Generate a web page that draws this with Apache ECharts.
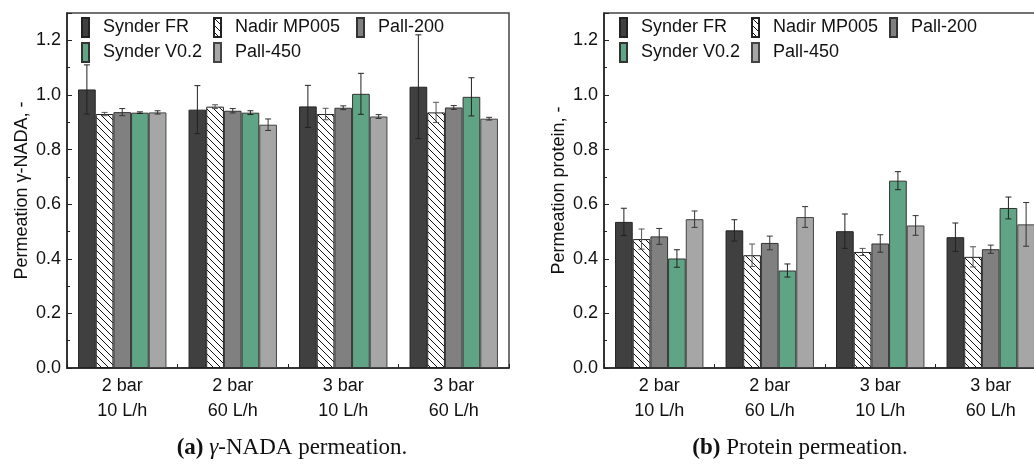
<!DOCTYPE html>
<html>
<head>
<meta charset="utf-8">
<script src="https://cdn.jsdelivr.net/npm/echarts@6/dist/echarts.min.js"></script>
<style>
  html, body { margin: 0; padding: 0; background: #fff; }
  #chart { width: 1034px; height: 468px; }
</style>
</head>
<body>
<div id="chart"></div>
<script>
// data
const categories = ['2 bar\n10 L/h', '2 bar\n60 L/h', '3 bar\n10 L/h', '3 bar\n60 L/h']
const names = ['Synder FR', 'Nadir MP005', 'Pall-200', 'Synder V0.2', 'Pall-450']
const yTicks = [0, 0.2, 0.4, 0.6, 0.8, 1.0, 1.2]

// (a) gamma-NADA permeation
const nadaFR = [1.02, 0.946, 0.958, 1.03]
const nadaFRErr = [0.09, 0.088, 0.077, 0.19]
const nadaNadir = [0.930, 0.957, 0.930, 0.936]
const nadaNadirErr = [0.006, 0.007, 0.021, 0.037]
const nadaP200 = [0.937, 0.942, 0.953, 0.954]
const nadaP200Err = [0.013, 0.008, 0.007, 0.007]
const nadaV02 = [0.935, 0.935, 1.004, 0.993]
const nadaV02Err = [0.003, 0.007, 0.075, 0.07]
const nadaP450 = [0.936, 0.891, 0.921, 0.913]
const nadaP450Err = [0.006, 0.021, 0.007, 0.005]

// (b) protein permeation
const protFR = [0.535, 0.504, 0.501, 0.479]
const protFRErr = [0.05, 0.039, 0.063, 0.052]
const protNadir = [0.472, 0.413, 0.425, 0.407]
const protNadirErr = [0.037, 0.041, 0.013, 0.037]
const protP200 = [0.482, 0.458, 0.456, 0.435]
const protP200Err = [0.029, 0.025, 0.032, 0.015]
const protV02 = [0.401, 0.357, 0.686, 0.586]
const protV02Err = [0.032, 0.024, 0.033, 0.04]
const protP450 = [0.545, 0.553, 0.522, 0.526]
const protP450Err = [0.03, 0.038, 0.036, 0.08]

const nada = [nadaFR, nadaNadir, nadaP200, nadaV02, nadaP450]
const nadaErr = [nadaFRErr, nadaNadirErr, nadaP200Err, nadaV02Err, nadaP450Err]
const prot = [protFR, protNadir, protP200, protV02, protP450]
const protErr = [protFRErr, protNadirErr, protP200Err, protV02Err, protP450Err]

// hatch for Nadir MP005
const hatch = document.createElement('canvas')
hatch.width = 7
hatch.height = 7
const hctx = hatch.getContext('2d')
hctx.fillStyle = '#fff'
hctx.fillRect(0, 0, 7, 7)
hctx.strokeStyle = '#111'
hctx.lineWidth = 1
for (let k = -7; k <= 7; k += 7) {
  hctx.beginPath()
  hctx.moveTo(k, 0)
  hctx.lineTo(k + 7, 7)
  hctx.stroke()
}

const fills = ['#404040', { image: hatch, repeat: 'repeat' }, '#808080', '#5fa585', '#a6a6a6']
const borders = ['#222', '#222', '#333', '#333', '#444']
const errColors = ['#222', '#555', '#333', '#222', '#333']
const font = 'Liberation Sans, Arial, sans-serif'
const serif = 'Liberation Serif, serif'
const barFrac = 0.16 // (1 - 20%) / 5

const chartDom = document.getElementById('chart')
const myChart = echarts.init(chartDom)

// right panel runs past the edge of the page in the original
const grids = [
  { left: 67, top: 13, width: 442, height: 355 },
  { left: 604, top: 13, width: 442, height: 355 }
]

const xAxes = grids.map((g, i) => ({
  type: 'category',
  gridIndex: i,
  data: categories,
  axisLine: { lineStyle: { color: '#222', width: 1.5 } },
  axisTick: { show: true, inside: true, length: 4, lineStyle: { color: '#222' } },
  axisLabel: { color: '#111', fontSize: 18, fontFamily: font, lineHeight: 25, margin: 6 }
}))

const yAxes = ['Permeation γ-NADA, -', 'Permeation protein, -'].map((nm, i) => ({
  type: 'value',
  gridIndex: i,
  min: 0,
  max: 1.3,
  interval: 0.2,
  name: nm,
  nameLocation: 'middle',
  nameRotate: 90,
  nameGap: 36,
  nameTextStyle: { color: '#111', fontSize: 18, fontFamily: font },
  splitLine: { show: false },
  axisLine: { show: true, lineStyle: { color: '#222', width: 1.5 } },
  axisTick: { show: true, inside: true, length: 5, lineStyle: { color: '#222' } },
  minorTick: { show: true, splitNumber: 2, length: 3, lineStyle: { color: '#222' } },
  axisLabel: {
    color: '#111', fontSize: 18, fontFamily: font, margin: 6, showMaxLabel: false,
    formatter: v => yTicks.includes(+v.toFixed(1)) ? v.toFixed(1) : ''
  }
}))

const series = []
;[nada, prot].forEach((vals, gi) => {
  const errs = gi === 0 ? nadaErr : protErr
  names.forEach((nm, si) => {
    series.push({
      name: nm,
      type: 'bar',
      xAxisIndex: gi,
      yAxisIndex: gi,
      data: vals[si],
      barGap: '0%',
      barCategoryGap: '20%',
      itemStyle: { color: fills[si], borderColor: borders[si], borderWidth: 1 },
      emphasis: { disabled: true }
    })
  })
  // error bars, placed on the matching bar of each group
  names.forEach((nm, si) => {
    series.push({
      type: 'custom',
      xAxisIndex: gi,
      yAxisIndex: gi,
      z: 5,
      silent: true,
      data: vals[si].map((v, ci) => [ci, v, errs[si][ci]]),
      encode: { x: 0, y: 1 },
      renderItem: (params, api) => {
        const ci = api.value(0)
        const v = api.value(1)
        const e = api.value(2)
        const bw = api.size([1, 0])[0] * barFrac
        const hi = api.coord([ci, v + e])
        const lo = api.coord([ci, v - e])
        const x = hi[0] + (si - 2) * bw
        const st = { stroke: errColors[si], lineWidth: 1 }
        return {
          type: 'group',
          children: [
            { type: 'line', shape: { x1: x, y1: hi[1], x2: x, y2: lo[1] }, style: st },
            { type: 'line', shape: { x1: x - 3, y1: hi[1], x2: x + 3, y2: hi[1] }, style: st },
            { type: 'line', shape: { x1: x - 3, y1: lo[1], x2: x + 3, y2: lo[1] }, style: st }
          ]
        }
      }
    })
  })
})

// legend laid out in columns, like the original
const legendCol = (left, top, data) => ({
  left: left,
  top: top,
  orient: 'vertical',
  padding: 0,
  itemGap: 4,
  itemWidth: 7,
  itemHeight: 19,
  icon: 'rect',
  selectedMode: false,
  data: data,
  textStyle: { color: '#111', fontSize: 18, fontFamily: font, padding: [0, 0, 0, 9] }
})

const legends = [
  legendCol(81, 17, [names[0], names[3]]),
  legendCol(213, 17, [names[1], names[4]]),
  legendCol(356, 17, [names[2]]),
  legendCol(619, 17, [names[0], names[3]]),
  legendCol(751, 17, [names[1], names[4]]),
  legendCol(889, 17, [names[2]])
]

const caption = (x, tag, rest) => ({
  type: 'text',
  x: x,
  y: 448,
  style: {
    text: '{b|' + tag + '} ' + rest,
    align: 'center',
    verticalAlign: 'middle',
    fill: '#111',
    fontSize: 23,
    fontFamily: serif,
    rich: {
      b: { fontWeight: 'bold', fontSize: 23, fontFamily: serif },
      g: { fontStyle: 'italic', fontSize: 23, fontFamily: serif }
    }
  }
})

const option = {
  backgroundColor: '#fff',
  animation: false,
  grid: grids.map(g => Object.assign({ show: true, borderColor: '#444', borderWidth: 1.5, outerBoundsMode: 'none', containLabel: false }, g)),
  legend: legends,
  xAxis: xAxes,
  yAxis: yAxes,
  series: series,
  graphic: [
    caption(292, '(a)', '{g|γ}-NADA permeation.'),
    caption(800, '(b)', 'Protein permeation.')
  ]
}

myChart.setOption(option)
</script>
</body>
</html>
